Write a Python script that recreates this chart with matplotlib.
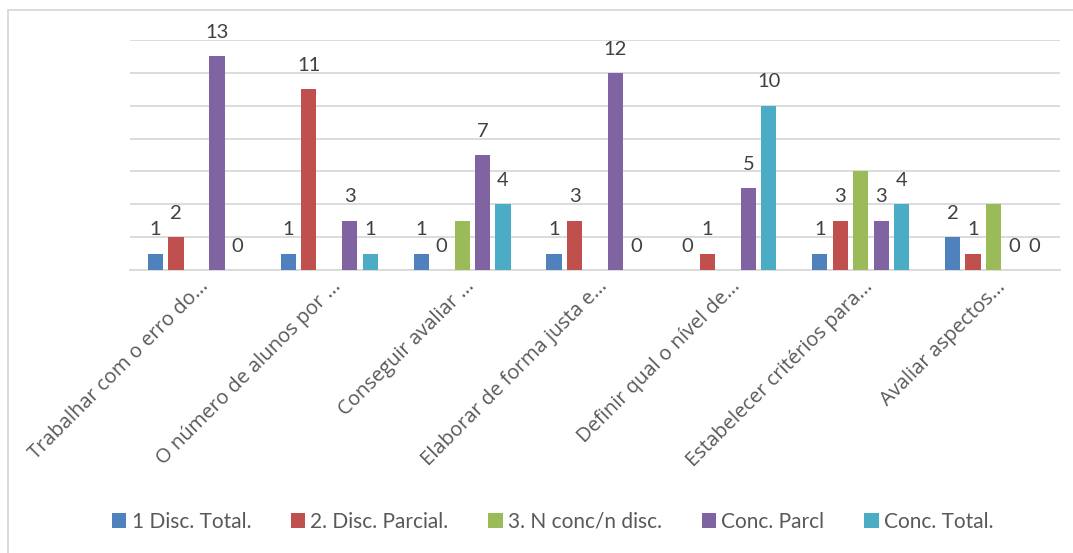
import numpy as np
import matplotlib.pyplot as plt
from matplotlib.patches import Rectangle

categorias = ["Trabalhar com o erro do...", "O número de alunos por ...",
              "Conseguir avaliar ...", "Elaborar de forma justa e...",
              "Definir qual o nível de...", "Estabelecer critérios para...",
              "Avaliar aspectos..."]

series = ["1 Disc. Total.", "2. Disc. Parcial.", "3. N conc/n disc.",
          "Conc. Parcl", "Conc. Total."]

disc_total = [1, 1, 1, 1, 0, 1, 2]
disc_parcial = [2, 11, 0, 3, 1, 3, 1]
n_conc = [0, 0, 3, 0, 0, 6, 4]
conc_parcl = [13, 3, 7, 12, 5, 3, 0]
conc_total = [0, 1, 4, 0, 10, 4, 0]

cores = ["#4F81BD", "#C0504D", "#9BBB59", "#8064A2", "#4BACC6"]
valores = [disc_total, disc_parcial, n_conc, conc_parcl, conc_total]
# a série do meio não tem rótulos de dados
com_rotulo = [True, True, False, True, True]

fig = plt.figure(figsize=(10.73, 5.53), dpi=100)
ax = fig.add_axes([130 / 1073, 1 - 270 / 553, 930 / 1073, 230 / 553])

x = np.arange(len(categorias))
passo = 0.154
largura = 0.115

for k, (vals, cor, nome) in enumerate(zip(valores, cores, series)):
    pos = x + (k - 2) * passo
    ax.bar(pos, vals, width=largura, color=cor, label=nome, zorder=3)
    if com_rotulo[k]:
        for px, v in zip(pos, vals):
            ax.annotate(str(v), (px, v), xytext=(0, 11), textcoords="offset points",
                        ha="center", va="bottom", fontsize=14.5, family="Lato",
                        color="#404040")

ax.set_xlim(-0.5, len(categorias) - 0.5)
ax.set_ylim(0, 14)
ax.set_yticks(np.arange(0, 15, 2))
ax.yaxis.grid(True, color="#d9d9d9", linewidth=1.3, zorder=0)
ax.tick_params(left=False, labelleft=False, bottom=False, labelbottom=False)
for lado in ["left", "right", "top"]:
    ax.spines[lado].set_visible(False)
ax.spines["bottom"].set_color("#d9d9d9")
ax.spines["bottom"].set_linewidth(1.3)

for i, nome in enumerate(categorias):
    ax.text(i + 0.07, -0.06, nome, transform=ax.get_xaxis_transform(),
            rotation=45, ha="right", va="center", rotation_mode="anchor",
            fontsize=14.5, family="Open Sans", color="#595959")

fig.legend(loc="center", bbox_to_anchor=(0.515, 1 - 522 / 553), ncol=5,
           frameon=False, prop={"family": "Lato", "size": 15},
           labelcolor="#595959", handlelength=0.7, handleheight=0.7,
           handletextpad=0.25, columnspacing=1.9)

fig.patches.append(Rectangle((8 / 1073, -0.1), 1.2, 1 - 10 / 553 + 0.1,
                             transform=fig.transFigure, fill=False,
                             edgecolor="#d9d9d9", linewidth=1.3))

fig.savefig("out.png", dpi=100)
